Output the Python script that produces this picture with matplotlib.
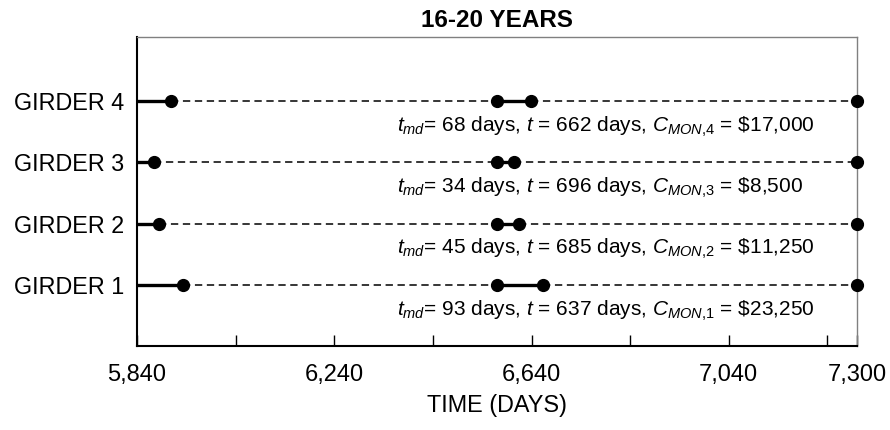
import matplotlib
matplotlib.use("Agg")
import matplotlib.pyplot as plt
import numpy as np

plt.rcParams['font.family'] = ['Liberation Sans', 'DejaVu Sans']
plt.rcParams['mathtext.fontset'] = 'custom'
plt.rcParams['mathtext.rm'] = 'Liberation Sans'
plt.rcParams['mathtext.it'] = 'Liberation Sans:italic'
plt.rcParams['mathtext.bf'] = 'Liberation Sans:bold'

# ---- data ----
girders = ["GIRDER 1", "GIRDER 2", "GIRDER 3", "GIRDER 4"]
girder_ids = [1, 2, 3, 4]
t_md = [93, 45, 34, 68]          # days
t_int = [637, 685, 696, 662]     # days
c_mon = ["23,250", "11,250", "8,500", "17,000"]
start_day = 5840
end_day = 7300
tick_labels = {5840: "5,840", 6240: "6,240", 6640: "6,640", 7040: "7,040", 7300: "7,300"}
title = "16-20 YEARS"
xlabel = "TIME (DAYS)"

fig = plt.figure(figsize=(8.9, 4.3), dpi=100)
ax = fig.add_axes([137/890, 84/430, 720/890, 309/430])

fs = 16.8
fs_ann = 15.0
for gid, md, ti, cm in zip(girder_ids, t_md, t_int, c_mon):
    p1 = start_day + md
    p2 = p1 + ti
    p3 = p2 + md
    p4 = end_day
    # dashed segments
    ax.plot([p1, p2], [gid, gid], color='black', lw=1.1, dashes=(4.8, 3.0), zorder=2)
    ax.plot([p3, p4], [gid, gid], color='black', lw=1.1, dashes=(4.8, 3.0), zorder=2)
    # solid segments
    ax.plot([start_day, p1], [gid, gid], color='black', lw=2.4, solid_capstyle='butt', zorder=3)
    ax.plot([p2, p3], [gid, gid], color='black', lw=2.4, solid_capstyle='butt', zorder=3)
    # dots
    ax.plot([p1, p2, p3, p4], [gid] * 4, 'o', color='black', ms=8.5, zorder=4, clip_on=False)
    label = (r"$t_{md}$= %d days, $t$ = %d days, $C_{MON{,}%d}$ = \$%s" % (md, ti, gid, cm))
    ax.text(6367, gid - 0.42, label, fontsize=fs_ann, va='center', ha='left')

ax.set_xlim(start_day, end_day)
ax.set_ylim(0, 5.05)

major = list(range(5840, 7300, 200)) + [7300]
ax.set_xticks(major)
ax.set_xticklabels([tick_labels.get(v, "") for v in major], fontsize=17)
ax.tick_params(axis='x', direction='in', length=8, width=1, pad=13)

ax.set_yticks(girder_ids)
ax.set_yticklabels(girders, fontsize=fs)
ax.tick_params(axis='y', length=0, pad=9)

ax.set_xlabel(xlabel, fontsize=fs, labelpad=6)
ax.set_title(title, fontsize=17.5, fontweight='bold', pad=7)

ax.spines['left'].set_linewidth(1.5)
ax.spines['bottom'].set_linewidth(1.5)
ax.spines['top'].set_color('#808080')
ax.spines['right'].set_color('#808080')
ax.spines['top'].set_linewidth(1.0)
ax.spines['right'].set_linewidth(1.0)

fig.savefig("out.png", dpi=100)
